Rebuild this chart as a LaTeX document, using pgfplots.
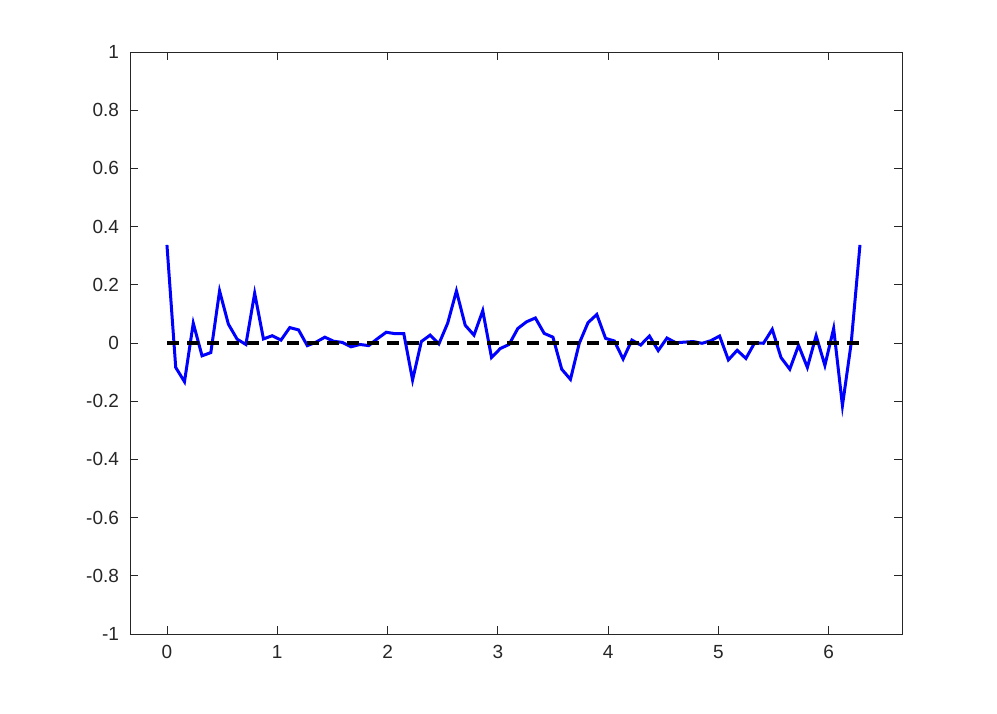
\documentclass[border=0pt]{standalone}
\usepackage{pgfplots}
\usepackage{pgfplotstable}
\pgfplotsset{compat=1.18}
\usepackage{fontspec}
\setmainfont{Liberation Sans}
\definecolor{axgray}{rgb}{0.15,0.15,0.15}
\definecolor{mblue}{rgb}{0,0,1}

% error values, x_k = k*2*pi/79
\pgfplotstableread{
k y
0 0.337
1 -0.084
2 -0.133
3 0.068
4 -0.044
5 -0.033
6 0.179
7 0.065
8 0.013
9 -0.005
10 0.171
11 0.014
12 0.025
13 0.010
14 0.053
15 0.045
16 -0.009
17 0.003
18 0.020
19 0.006
20 0.002
21 -0.013
22 -0.005
23 -0.009
24 0.015
25 0.037
26 0.032
27 0.032
28 -0.127
29 0.005
30 0.027
31 -0.003
32 0.068
33 0.179
34 0.061
35 0.027
36 0.111
37 -0.050
38 -0.019
39 -0.005
40 0.050
41 0.073
42 0.086
43 0.033
44 0.020
45 -0.090
46 -0.125
47 -0.001
48 0.070
49 0.098
50 0.016
51 0.007
52 -0.055
53 0.010
54 -0.007
55 0.024
56 -0.026
57 0.017
58 0.001
59 0.003
60 0.005
61 -0.001
62 0.008
63 0.024
64 -0.058
65 -0.025
66 -0.053
67 0.001
68 -0.001
69 0.047
70 -0.050
71 -0.090
72 -0.008
73 -0.084
74 0.025
75 -0.077
76 0.050
77 -0.215
78 0.000
79 0.337
}\errtable

\begin{document}
\begin{tikzpicture}
\path (-65pt,-39.5pt) rectangle (433.5pt,317pt);
\begin{axis}[
    at={(0pt,0pt)}, anchor=south west,
    scale only axis,
    width=386pt, height=291pt,
    xmin=-0.335, xmax=6.664,
    ymin=-1, ymax=1,
    xtick={0,1,...,6},
    ytick={-1,-0.8,...,1},
    yticklabels={-1,-0.8,-0.6,-0.4,-0.2,0,0.2,0.4,0.6,0.8,1},
    tick align=inside,
    tick pos=both,
    major tick length=4pt,
    axis line style={axgray, line width=0.4pt},
    every tick/.style={axgray, line width=0.4pt},
    tick label style={font=\fontsize{9.5}{11}\selectfont, color=axgray},
    /pgf/number format/assume math mode=true,
    xticklabel style={yshift=-2pt},
    yticklabel style={xshift=-2pt},
]
\addplot[mblue, line width=1.5pt] table[x expr={\thisrow{k}*2*pi/79}, y=y] {\errtable};
\addplot[black, line width=2pt, dash pattern=on 6pt off 4pt] coordinates {(0,0) (6.2832,0)};
\end{axis}
\end{tikzpicture}
\end{document}
